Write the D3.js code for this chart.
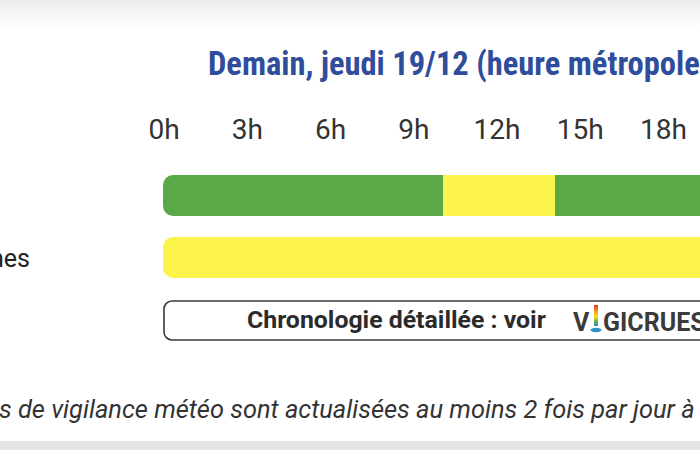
<!DOCTYPE html>
<html><head><meta charset="utf-8">
<script src="https://cdn.jsdelivr.net/npm/d3@7/dist/d3.min.js"></script>
<style>
html,body{margin:0;padding:0;background:#fff;overflow:hidden;}
svg{display:block;font-family:Roboto,"Noto Sans",sans-serif;}
</style></head><body>
<svg id="c" width="700" height="450"></svg>
<script>
// ---- data ----
const title = "Demain, jeudi 19/12 (heure métropole)";
const tickHours = [0, 3, 6, 9, 12, 15, 18, 21, 24];
const tickLabels = ["0h", "3h", "6h", "9h", "12h", "15h", "18h", "21h", "24h"];
const rowLabels = ["", "nes"];
const row1Start = [0, 10, 14];
const row1End = [10, 14, 24];
const row1Level = ["vert", "jaune", "vert"];
const row2Start = [0];
const row2End = [24];
const row2Level = ["jaune"];
const boxText = "Chronologie détaillée : voir";
const footer = "Les cartes de vigilance météo sont actualisées au moins 2 fois par jour à 6h et 16h.";

const levelColor = {vert: "#5aa846", jaune: "#fdf34d", orange: "#f6a623", rouge: "#e3262b"};

const svg = d3.select("#c");
const W = 700, H = 450;

function measure(str, size, attrs) {
  const t = svg.append("text").attr("font-size", size);
  Object.entries(attrs || {}).forEach(([k, v]) => t.attr(k, v));
  t.text(str);
  const w = t.node().getComputedTextLength();
  t.remove();
  return w;
}
function fitSize(str, target, base, attrs) {
  return base * target / measure(str, base, attrs);
}

// background gradient top and grey bottom band
const defs = svg.append("defs");
const g1 = defs.append("linearGradient").attr("id", "topg").attr("x1", 0).attr("x2", 0).attr("y1", 0).attr("y2", 1);
g1.append("stop").attr("offset", 0).attr("stop-color", "#ececec");
g1.append("stop").attr("offset", 1).attr("stop-color", "#ffffff");
svg.append("rect").attr("x", 0).attr("y", 0).attr("width", W).attr("height", 28).attr("fill", "url(#topg)");
svg.append("rect").attr("x", 0).attr("y", 441).attr("width", W).attr("height", 9).attr("fill", "#e4e4e4");

// scales
const xBar = d3.scaleLinear().domain([0, 24]).range([163, 835]);
const xLab = d3.scaleLinear().domain([0, 24]).range([164, 830]);
const y = d3.scaleBand().domain([0, 1]).range([175, 278]).paddingInner(0.339);

// title
const titleAttrs = {"font-weight": 700, "font-family": "'Roboto Condensed',Roboto,sans-serif"};
const titleSize = fitSize("Demain, jeudi 19/12 (heure métropole", 492, 25, titleAttrs);
svg.append("text").attr("x", 208).attr("y", 75)
  .attr("font-size", titleSize).attr("font-weight", 700).attr("fill", "#2f4d9b")
  .attr("font-family", "'Roboto Condensed',Roboto,sans-serif")
  .text(title);

// hour labels
const tickSize = fitSize("12h", 47, 22, {});
svg.append("g").selectAll("text").data(tickHours).join("text")
  .attr("x", d => xLab(d)).attr("y", 139)
  .attr("text-anchor", "middle").attr("font-size", tickSize).attr("fill", "#333")
  .text((d, i) => tickLabels[i]);

// bars
const rows = [
  row1Start.map((s, i) => ({s, e: row1End[i], lvl: row1Level[i]})),
  row2Start.map((s, i) => ({s, e: row2End[i], lvl: row2Level[i]}))
];
const labSize = 25;
rows.forEach((segs, r) => {
  const cid = "clip" + r;
  defs.append("clipPath").attr("id", cid).append("rect")
    .attr("x", xBar(0)).attr("y", y(r)).attr("width", xBar(24) - xBar(0))
    .attr("height", y.bandwidth()).attr("rx", 10);
  svg.append("g").attr("clip-path", `url(#${cid})`).selectAll("rect").data(segs).join("rect")
    .attr("x", d => xBar(d.s)).attr("y", y(r))
    .attr("width", d => xBar(d.e) - xBar(d.s)).attr("height", y.bandwidth())
    .attr("fill", d => levelColor[d.lvl]);
  if (rowLabels[r]) {
    svg.append("text").attr("x", 30).attr("text-anchor", "end")
      .attr("y", y(r) + y.bandwidth() / 2 + 9)
      .attr("font-size", labSize).attr("fill", "#222").text(rowLabels[r]);
  }
});

// Vigicrues box
svg.append("rect").attr("x", xBar(0) + 1).attr("y", 301).attr("width", 700).attr("height", 39)
  .attr("rx", 8).attr("fill", "#fff").attr("stroke", "#3a3a3a").attr("stroke-width", 1.6);
const boxSize = fitSize(boxText, 299, 20, {"font-weight": 700});
svg.append("text").attr("x", 247).attr("y", 328).attr("font-size", boxSize).attr("font-weight", 700)
  .attr("fill", "#2b2b2b").text(boxText);
// logo
const lg = defs.append("linearGradient").attr("id", "rain").attr("x1", 0).attr("x2", 0).attr("y1", 0).attr("y2", 1);
[["0", "#e0312b"], ["0.3", "#f39a1e"], ["0.55", "#f7e11d"], ["0.8", "#5bb04a"], ["1", "#2e8fd0"]]
  .forEach(([o, c]) => lg.append("stop").attr("offset", o).attr("stop-color", c));
svg.append("text").attr("x", 573).attr("y", 331).attr("font-size", 25).attr("font-weight", 700)
  .attr("fill", "#3a3a3a").text("V");
svg.append("rect").attr("x", 594).attr("y", 305).attr("width", 4).attr("height", 21).attr("fill", "url(#rain)");
svg.append("ellipse").attr("cx", 596).attr("cy", 330).attr("rx", 5.5).attr("ry", 2.2).attr("fill", "#2e8fd0");
svg.append("text").attr("x", 603).attr("y", 331).attr("font-size", 25).attr("font-weight", 700)
  .attr("fill", "#3a3a3a").text("GICRUES");

// footer italic
const footAttrs = {"font-style": "italic"};
const footSize = fitSize("s de vigilance météo sont actualisées au moins 2 fois par jour à", 696, 21, footAttrs);
const off = measure("Les carte", footSize, footAttrs);
svg.append("text").attr("x", -off - 1).attr("y", 418).attr("font-size", footSize)
  .attr("font-style", "italic").attr("fill", "#333").text(footer);
</script>
</body></html>
